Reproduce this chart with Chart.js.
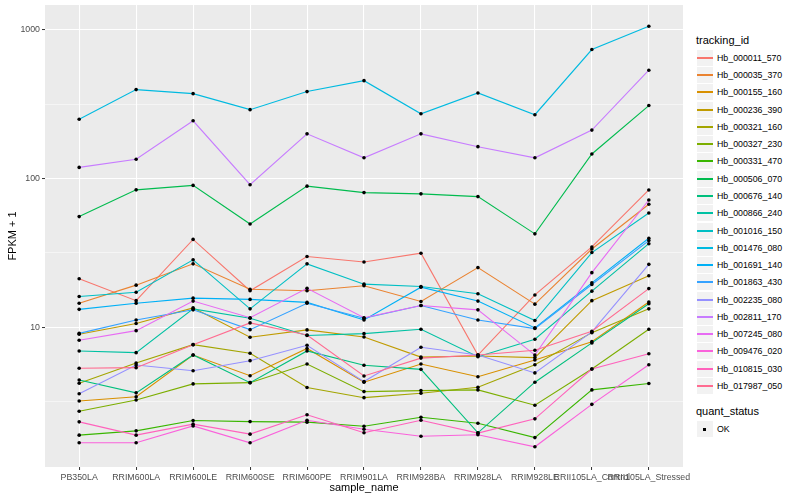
<!DOCTYPE html>
<html>
<head>
<meta charset="utf-8">
<script src="https://cdn.jsdelivr.net/npm/chart.js@4.4.1/dist/chart.umd.min.js"></script>
<style>
  body { margin: 0; background: #fff; font-family: "Liberation Sans", Arial, sans-serif; }
  #wrap { position: relative; width: 800px; height: 500px; overflow: hidden; }
  #grafico { position: absolute; left: 0; top: 0; }
  .leg-title { position: absolute; left: 696px; font-size: 11px; line-height: 13px; color: #000; white-space: nowrap; }
  .leg-key { position: absolute; left: 697px; width: 16px; height: 16px; background: #f2f2f2; }
  .leg-key i { position: absolute; left: 0; width: 16px; top: 7px; height: 2px; }
  .leg-key b { position: absolute; left: 6px; top: 7px; width: 3px; height: 3px; background: #000; }
  .leg-lab { position: absolute; left: 717px; font-size: 8.8px; line-height: 10px; color: #000; white-space: nowrap; }
</style>
</head>
<body>
<div id="wrap">
  <canvas id="grafico" width="690" height="500"></canvas>
  <div id="legenda"></div>
</div>
<script>
// categorias (eixo x)
const samples = ['PB350LA', 'RRIM600LA', 'RRIM600LE', 'RRIM600SE', 'RRIM600PE', 'RRIM901LA',
  'RRIM928BA', 'RRIM928LA', 'RRIM928LE', 'RRII105LA_Control', 'RRII105LA_Stressed'];

const trackingIds = ['Hb_000011_570', 'Hb_000035_370', 'Hb_000155_160', 'Hb_000236_390', 'Hb_000321_160',
  'Hb_000327_230', 'Hb_000331_470', 'Hb_000506_070', 'Hb_000676_140', 'Hb_000866_240',
  'Hb_001016_150', 'Hb_001476_080', 'Hb_001691_140', 'Hb_001863_430', 'Hb_002235_080',
  'Hb_002811_170', 'Hb_007245_080', 'Hb_009476_020', 'Hb_010815_030', 'Hb_017987_050'];

// FPKM + 1 por amostra
const hb_000011_570 = [21.2, 15.1, 39, 17.6, 29.9, 27.5, 31.5, 6.5, 16.5, 34.7, 83.9];
const hb_000035_370 = [14.5, 19.2, 26.7, 18.0, 17.6, 19.0, 14.9, 25.2, 14.3, 33.6, 67.2];
const hb_000155_160 = [3.19, 3.41, 6.5, 4.72, 7.2, 4.27, 5.66, 4.65, 6.03, 8.0, 14.8];
const hb_000236_390 = [8.97, 10.6, 13.5, 8.57, 9.6, 8.6, 6.3, 6.4, 6.25, 15.1, 22.2];
const hb_000321_160 = [4.2, 5.75, 7.64, 6.68, 3.93, 3.36, 3.6, 3.95, 5.6, 9.2, 13.3];
const hb_000327_230 = [2.72, 3.24, 4.16, 4.24, 5.66, 3.69, 3.75, 3.79, 2.99, 5.24, 9.7];
const hb_000331_470 = [1.88, 2.01, 2.36, 2.32, 2.30, 2.16, 2.48, 2.26, 1.81, 3.79, 4.18];
const hb_000506_070 = [55.5, 84, 90, 49.5, 89, 80.5, 79, 75.7, 42.5, 146.5, 310];
const hb_000676_140 = [4.42, 3.62, 6.51, 4.24, 6.93, 5.55, 5.21, 1.95, 4.27, 7.85, 14.4];
const hb_000866_240 = [6.93, 6.75, 13.3, 11.5, 8.8, 9.06, 9.7, 6.34, 8.3, 17.5, 36.5];
const hb_001016_150 = [16.1, 17.2, 28.4, 13.3, 26.7, 19.5, 18.8, 16.8, 11.1, 31.8, 58.7];
const hb_001476_080 = [251, 397, 373, 291, 385, 456, 273, 377, 269, 738, 1060];
const hb_001691_140 = [13.2, 14.5, 15.7, 15.4, 14.7, 11.2, 18.6, 15.0, 9.9, 19.9, 39.7];
const hb_001863_430 = [9.1, 11.2, 13.1, 9.64, 14.5, 11.5, 14.0, 11.2, 9.8, 19.4, 38.3];
const hb_002235_080 = [3.57, 5.57, 5.1, 5.96, 7.57, 4.31, 7.33, 6.51, 4.93, 9.3, 26.5];
const hb_002811_170 = [119, 135, 245, 91, 200, 138, 200, 164, 138, 212, 536];
const hb_007245_080 = [8.18, 9.49, 15.0, 11.6, 18.3, 11.6, 14.0, 13.1, 6.5, 23.3, 71.8];
const hb_009476_020 = [1.67, 1.67, 2.17, 1.67, 2.37, 2.06, 1.85, 1.89, 1.57, 3.03, 5.6];
const hb_010815_030 = [2.31, 1.88, 2.23, 1.91, 2.58, 1.95, 2.37, 1.94, 2.42, 5.24, 6.64];
const hb_017987_050 = [5.30, 5.35, 7.64, 10.7, 8.87, 4.70, 6.2, 6.5, 7.0, 9.4, 18.2];

const seriesValues = [hb_000011_570, hb_000035_370, hb_000155_160, hb_000236_390, hb_000321_160,
  hb_000327_230, hb_000331_470, hb_000506_070, hb_000676_140, hb_000866_240,
  hb_001016_150, hb_001476_080, hb_001691_140, hb_001863_430, hb_002235_080,
  hb_002811_170, hb_007245_080, hb_009476_020, hb_010815_030, hb_017987_050];

// ticks do eixo y
const yMajor = [10, 100, 1000];
const yMinor = [3.162, 31.62, 316.2];

// paleta hue do ggplot (20 cores)
const seriesColors = ['#F8766D', '#EA8331', '#D89000', '#C09B00', '#A3A500', '#7CAE00', '#39B600',
  '#00BB4E', '#00BF7D', '#00C1A3', '#00BFC4', '#00BAE0', '#00B0F6', '#35A2FF', '#9590FF',
  '#C77CFF', '#E76BF3', '#FA62DB', '#FF62BC', '#FF6C91'];

Chart.defaults.font.family = '"Liberation Sans", Arial, sans-serif';

const lineSets = trackingIds.map((id, i) => ({
  label: id,
  data: seriesValues[i].map((v, j) => ({ x: j + 1, y: v })),
  borderColor: seriesColors[i],
  borderWidth: 1.1,
  pointRadius: 0,
  fill: false,
  tension: 0,
  order: 100 - i
}));

const pointSets = trackingIds.map((id, i) => ({
  label: id + ' OK',
  data: seriesValues[i].map((v, j) => ({ x: j + 1, y: v })),
  showLine: false,
  pointRadius: 1.8,
  pointBackgroundColor: '#000',
  pointBorderColor: '#000',
  pointBorderWidth: 0,
  order: 0
}));

// fundo cinza do painel
const painel = {
  id: 'painel',
  beforeDraw(chart) {
    const a = chart.chartArea;
    const c = chart.ctx;
    c.save();
    c.fillStyle = '#EBEBEB';
    c.fillRect(a.left, a.top, a.right - a.left, a.bottom - a.top);
    c.restore();
  }
};

const ctx = document.getElementById('grafico').getContext('2d');
const myChart = new Chart(ctx, {
  type: 'line',
  data: { datasets: lineSets.concat(pointSets) },
  plugins: [painel],
  options: {
    responsive: false,
    animation: false,
    layout: { padding: { top: 5, right: 7, left: 0, bottom: 0 } },
    plugins: { legend: { display: false }, tooltip: { enabled: false } },
    scales: {
      x: {
        type: 'linear',
        min: 0.4,
        max: 11.6,
        afterBuildTicks: s => { s.ticks = samples.map((c, i) => ({ value: i + 1 })); },
        afterFit: s => { s.height = 33; s.paddingLeft = 0; s.paddingRight = 0; },
        ticks: {
          callback: v => samples[v - 1],
          autoSkip: false,
          maxRotation: 0,
          minRotation: 0,
          padding: 2,
          color: '#4D4D4D',
          font: { size: 8.8 }
        },
        grid: { color: '#FFFFFF', lineWidth: 1.07, tickColor: '#333333', tickLength: 3, tickWidth: 1 },
        border: { display: false },
        title: { display: true, text: 'sample_name', color: '#000', font: { size: 11 }, padding: { top: 0, bottom: 5 } }
      },
      y: {
        type: 'logarithmic',
        min: 1.148,
        max: 1472,
        afterBuildTicks: s => {
          s.ticks = yMinor.concat(yMajor).sort((a, b) => a - b).map(v => ({ value: v }));
        },
        afterFit: s => { s.width = 45; s.paddingTop = 0; s.paddingBottom = 0; },
        ticks: {
          callback: v => yMajor.includes(v) ? String(v) : '',
          padding: 2,
          color: '#4D4D4D',
          font: { size: 8.8 }
        },
        grid: {
          color: '#FFFFFF',
          lineWidth: c => (c.tick && yMajor.includes(c.tick.value)) ? 1.07 : 0.53,
          tickColor: c => (c.tick && yMajor.includes(c.tick.value)) ? '#333333' : 'rgba(0,0,0,0)',
          tickLength: 3,
          tickWidth: 1
        },
        border: { display: false },
        title: { display: true, text: 'FPKM + 1', color: '#000', font: { size: 11 }, padding: { top: 6, bottom: 0 } }
      }
    }
  }
});

// legenda (estilo ggplot)
const legenda = document.getElementById('legenda');
function addEl(cls, top, html) {
  const d = document.createElement('div');
  d.className = cls;
  d.style.top = Math.round(top) + 'px';
  d.innerHTML = html;
  legenda.appendChild(d);
}
addEl('leg-title', 34, 'tracking_id');
trackingIds.forEach((id, i) => {
  const cy = 57.7 + i * 17.28;
  addEl('leg-key', cy - 8, '<i style="background:' + seriesColors[i] + '"></i>');
  addEl('leg-lab', cy - 5, id);
});
addEl('leg-title', 405, 'quant_status');
addEl('leg-key', 421.3, '<b></b>');
addEl('leg-lab', 424.3, 'OK');
</script>
</body>
</html>
